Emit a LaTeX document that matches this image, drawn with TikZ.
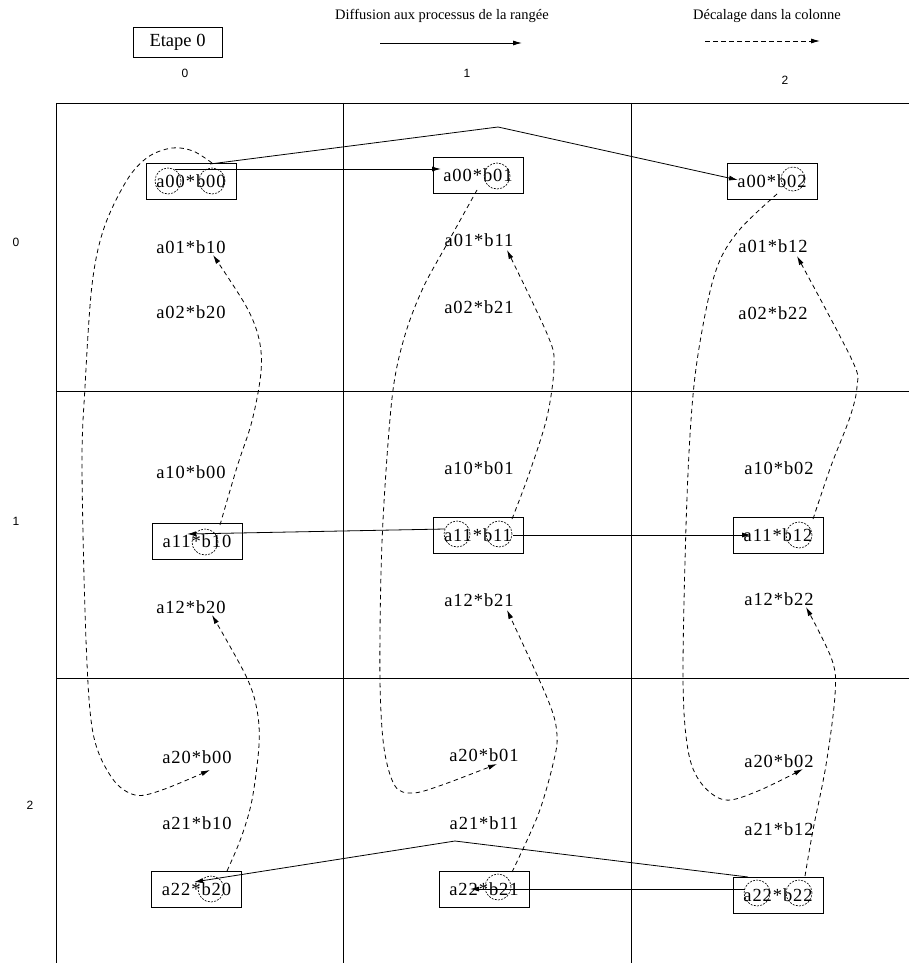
\documentclass[tikz,border=0pt]{standalone}
\usepackage{fontspec}
\setmainfont{Liberation Serif}
\newfontfamily\labfont{Liberation Sans}
\newfontfamily\cellfont[LetterSpace=5]{Liberation Serif}
\usetikzlibrary{arrows.meta}

\tikzset{
  gridline/.style={line width=0.9pt},
  cell/.style={font=\cellfont\fontsize{18.5}{18.5}\selectfont, inner sep=0pt},
  prodbox/.style={cell, draw, line width=0.9pt, minimum width=90pt, minimum height=36pt},
  ring/.style={draw, circle, minimum size=26pt, inner sep=0pt, line width=0.6pt, dash pattern=on 2pt off 1.2pt},
  bcast/.style={line width=0.8pt, -{Latex[length=9pt,width=5pt]}},
  shiftc/.style={line width=0.8pt, dash pattern=on 4.5pt off 3.5pt, -{Latex[length=9pt,width=5pt]}},
  hdr/.style={font=\fontsize{14.5}{15}\selectfont, inner sep=0pt},
  idx/.style={font=\labfont\fontsize{12}{12}\selectfont, inner sep=0pt},
}

\begin{document}
\begin{tikzpicture}[x=1pt,y=-1pt]
\useasboundingbox (0,0) rectangle (909,963);
\fill[white] (0,0) rectangle (909,963);

% ---- legend ----
\node[draw, line width=0.9pt, minimum width=89pt, minimum height=30pt, inner sep=0pt,
      font=\fontsize{18.5}{18.5}\selectfont] (etape) at (177.5,42) {Etape 0};
\node[hdr] (legdiff) at (442,16) {Diffusion aux processus de la rangée};
\coordinate (ld1) at (380,43);
\coordinate (ld2) at (522,43);
\draw[bcast] (ld1) -- (ld2);
\node[hdr] (legdec) at (767,16) {Décalage dans la colonne};
\coordinate (lc1) at (705,41);
\coordinate (lc2) at (820,41);
\draw[shiftc] (lc1) -- (lc2);

% ---- indices ----
\node[idx] (col0) at (185,73) {0};
\node[idx] (col1) at (467,73) {1};
\node[idx] (col2) at (785,80) {2};
\node[idx] (row0) at (16,242) {0};
\node[idx] (row1) at (16,521) {1};
\node[idx] (row2) at (30,805) {2};

% ---- grid ----
\draw[gridline] (56,103) -- (909,103);
\draw[gridline] (56,391) -- (909,391);
\draw[gridline] (56,678) -- (909,678);
\draw[gridline] (56,103) -- (56,963);
\draw[gridline] (343,103) -- (343,963);
\draw[gridline] (631,103) -- (631,963);

% ---- column 0 ----
\node[prodbox] (p00) at (191,181) {a00*b00};
\node[cell] (t0110) at (191,247) {a01*b10};
\node[cell] (t0220) at (191,312) {a02*b20};
\node[cell] (t1000) at (191,472) {a10*b00};
\node[prodbox] (p11) at (197,541) {a11*b10};
\node[cell] (t1220) at (191,607) {a12*b20};
\node[cell] (t2000) at (197,757) {a20*b00};
\node[cell] (t2110) at (197,823) {a21*b10};
\node[prodbox] (p22) at (196.5,889.5) {a22*b20};

% ---- column 1 ----
\node[prodbox] (q00) at (478,175) {a00*b01};
\node[cell] (t0111) at (479,240) {a01*b11};
\node[cell] (t0221) at (479,307) {a02*b21};
\node[cell] (t1001) at (479,468) {a10*b01};
\node[prodbox] (q11) at (478,535) {a11*b11};
\node[cell] (t1221) at (479,600) {a12*b21};
\node[cell] (t2001) at (484,755) {a20*b01};
\node[cell] (t2111) at (484,823) {a21*b11};
\node[prodbox] (q22) at (484,889) {a22*b21};

% ---- column 2 ----
\node[prodbox] (r00) at (772,181) {a00*b02};
\node[cell] (t0112) at (773,246) {a01*b12};
\node[cell] (t0222) at (773,313) {a02*b22};
\node[cell] (t1002) at (779,468) {a10*b02};
\node[prodbox] (r11) at (778,535) {a11*b12};
\node[cell] (t1222) at (779,599) {a12*b22};
\node[cell] (t2002) at (779,761) {a20*b02};
\node[cell] (t2112) at (779,829) {a21*b12};
\node[prodbox] (r22) at (778,895) {a22*b22};

% ---- circled operands ----
\node[ring] (c00a) at (168,181) {};
\node[ring] (c00b) at (212,181) {};
\node[ring] (c01b) at (497,176) {};
\node[ring, minimum size=24pt] (c02b) at (793,179) {};
\node[ring] (c10b) at (205,542) {};
\node[ring] (c11a) at (457,534) {};
\node[ring] (c11b) at (499,534) {};
\node[ring] (c12b) at (799,535) {};
\node[ring] (c20b) at (211,889) {};
\node[ring] (c21b) at (498,887) {};
\node[ring] (c22a) at (757,893) {};
\node[ring] (c22b) at (799,893) {};

% ---- broadcast along the rows ----
\coordinate (h0s) at (175,169);
\coordinate (h0e) at (441,169);
\draw[bcast] (h0s) -- (h0e);
\coordinate (h0u) at (210,164);
\coordinate (h0k) at (498,127);
\coordinate (h0f) at (738,180);
\draw[bcast] (h0u) -- (h0k) -- (h0f);

\coordinate (h1s) at (445,529);
\coordinate (h1e) at (187,534);
\draw[bcast] (h1s) -- (h1e);
\coordinate (h1u) at (513,535);
\coordinate (h1f) at (751,535);
\draw[bcast] (h1u) -- (h1f);

\coordinate (h2s) at (748,877);
\coordinate (h2k) at (455,841);
\coordinate (h2e) at (194,882);
\draw[bcast] (h2s) -- (h2k) -- (h2e);
\coordinate (h2u) at (745,889);
\coordinate (h2f) at (470,889);
\draw[bcast] (h2u) -- (h2f);

% ---- shifts along the columns ----
% column 0
\coordinate (vA0) at (212,163);
\coordinate (vA1) at (210,770);
\draw[shiftc] plot[smooth, tension=0.55] coordinates {(vA0) (193,151) (172,148) (148,157) (127,180) (104,228) (92,285) (85,387) (82,467) (86,640) (93,733) (112,778) (135,795) (162,790) (vA1)};
\coordinate (vB0) at (227,871);
\coordinate (vB1) at (212,615);
\draw[shiftc] plot[smooth, tension=0.55] coordinates {(vB0) (241,838) (252,800) (259,745) (257,710) (246,676) (vB1)};
\coordinate (vC0) at (220,525);
\coordinate (vC1) at (213,255);
\draw[shiftc] plot[smooth, tension=0.55] coordinates {(vC0) (237,467) (252,421) (261,372) (259,339) (246,306) (vC1)};

% column 1
\coordinate (vD0) at (477,190);
\coordinate (vD1) at (497,764);
\draw[shiftc] plot[smooth, tension=0.55] coordinates {(vD0) (447,244) (423,288) (405,335) (393,390) (385,486) (381,573) (380,681) (384,748) (395,786) (413,793) (442,785) (vD1)};
\coordinate (vE0) at (512,872);
\coordinate (vE1) at (507,610);
\draw[shiftc] plot[smooth, tension=0.55] coordinates {(vE0) (538,815) (553,764) (557,735) (548,700) (vE1)};
\coordinate (vF0) at (512,519);
\coordinate (vF1) at (507,250);
\draw[shiftc] plot[smooth, tension=0.55] coordinates {(vF0) (529,474) (547,417) (554,366) (548,336) (vF1)};

% column 2
\coordinate (vG0) at (777,194);
\coordinate (vG1) at (803,769);
\draw[shiftc] plot[smooth, tension=0.55] coordinates {(vG0) (741,228) (720,260) (707,305) (694,385) (687,497) (683,675) (688,750) (701,783) (725,800) (758,791) (vG1)};
\coordinate (vH0) at (805,876);
\coordinate (vH1) at (806,607);
\draw[shiftc] plot[smooth, tension=0.55] coordinates {(vH0) (813,830) (826,765) (835,695) (832,660) (vH1)};
\coordinate (vI0) at (813,519);
\coordinate (vI1) at (797,256);
\draw[shiftc] plot[smooth, tension=0.55] coordinates {(vI0) (831,466) (850,417) (857,386) (852,360) (vI1)};
\end{tikzpicture}
\end{document}
